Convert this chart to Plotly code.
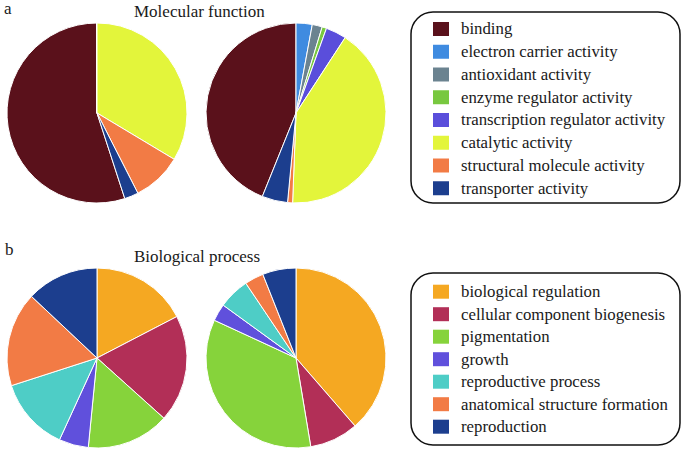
import plotly.graph_objects as go

W, H = 685, 450

# ---- data ----
mf_labels = ["binding", "electron carrier activity", "antioxidant activity",
             "enzyme regulator activity", "transcription regulator activity",
             "catalytic activity", "structural molecule activity", "transporter activity"]
mf_colors = ["#5a111b", "#3f8be0", "#6b8390", "#78c83f", "#5a4edb",
             "#e3f53b", "#f27b45", "#1c3e8e"]
mf_left = [55.0, 0, 0, 0, 0, 33.6, 8.9, 2.5]
mf_right = [43.9, 2.9, 1.8, 0.8, 3.7, 41.4, 0.9, 4.6]

bp_labels = ["biological regulation", "cellular component biogenesis", "pigmentation",
             "growth", "reproductive process", "anatomical structure formation", "reproduction"]
bp_colors = ["#f5a822", "#b22f57", "#86d33b", "#6050dc", "#4ecdc6", "#f27b45", "#1c3e8e"]
bp_left = [17.4, 19.3, 14.9, 5.3, 13.2, 17.0, 13.0]
bp_right = [38.6, 8.75, 34.5, 3.1, 5.6, 3.4, 6.0]

FONT = "Liberation Serif"


def px_x(x):
    return x / W


def px_y(y):
    return 1 - y / H


fig = go.Figure()


def add_pie(values, labels, colors, cx, cy, r, first_on_top_end):
    total = sum(values)
    rot = 0
    if first_on_top_end:
        rot = -values[0] / total * 360
    fig.add_trace(go.Pie(
        values=values, labels=labels, sort=False, direction="clockwise",
        rotation=rot, textinfo="none", hoverinfo="label+percent",
        marker=dict(colors=colors, line=dict(color="white", width=1)),
        domain=dict(x=[px_x(cx - r), px_x(cx + r)], y=[px_y(cy + r), px_y(cy - r)]),
        showlegend=False,
    ))


add_pie(mf_left, mf_labels, mf_colors, 97, 113, 90, True)
add_pie(mf_right, mf_labels, mf_colors, 296, 113, 90, True)
add_pie(bp_left, bp_labels, bp_colors, 97, 358, 90, False)
add_pie(bp_right, bp_labels, bp_colors, 296, 358, 90, False)


def rounded_box(x0, y0, x1, y1, rad):
    def P(x, y):
        return f"{px_x(x):.5f},{px_y(y):.5f}"
    k = 0.45
    path = (f"M {P(x0 + rad, y0)} L {P(x1 - rad, y0)} "
            f"C {P(x1 - rad * k, y0)} {P(x1, y0 + rad * k)} {P(x1, y0 + rad)} "
            f"L {P(x1, y1 - rad)} "
            f"C {P(x1, y1 - rad * k)} {P(x1 - rad * k, y1)} {P(x1 - rad, y1)} "
            f"L {P(x0 + rad, y1)} "
            f"C {P(x0 + rad * k, y1)} {P(x0, y1 - rad * k)} {P(x0, y1 - rad)} "
            f"L {P(x0, y0 + rad)} "
            f"C {P(x0, y0 + rad * k)} {P(x0 + rad * k, y0)} {P(x0 + rad, y0)} Z")
    fig.add_shape(type="path", path=path, xref="paper", yref="paper",
                  line=dict(color="#111111", width=1.5), fillcolor="rgba(0,0,0,0)")


def legend(labels, colors, box, y_first, step):
    rounded_box(*box, 22)
    for i, (lab, col) in enumerate(zip(labels, colors)):
        yc = y_first + i * step
        fig.add_shape(type="rect", xref="paper", yref="paper",
                      x0=px_x(433), x1=px_x(449), y0=px_y(yc + 7), y1=px_y(yc - 7),
                      fillcolor=col, line=dict(width=0))
        fig.add_annotation(x=px_x(459), y=px_y(yc), xref="paper", yref="paper",
                           text=lab, showarrow=False, xanchor="left", yanchor="middle",
                           font=dict(family=FONT, size=16.8, color="#1a1a1a"))


legend(mf_labels, mf_colors, (411, 12, 680, 203), 29, 22.75)
legend(bp_labels, bp_colors, (411, 273, 680, 445), 291.7, 22.5)


def text(x, y, s, size=17, anchor="center"):
    fig.add_annotation(x=px_x(x), y=px_y(y), xref="paper", yref="paper", text=s,
                       showarrow=False, xanchor=anchor, yanchor="middle",
                       font=dict(family=FONT, size=size, color="#1a1a1a"))


text(2, 8, "a", anchor="left")
text(200, 12, "Molecular function")
text(3, 249, "b", anchor="left")
text(197, 256, "Biological process")

fig.update_layout(width=W, height=H, margin=dict(l=0, r=0, t=0, b=0),
                  paper_bgcolor="white", plot_bgcolor="white",
                  font=dict(family=FONT))

fig.write_html("out.html", config={"displayModeBar": False},
               post_script="document.body.style.margin='0';document.body.style.overflow='hidden';")
